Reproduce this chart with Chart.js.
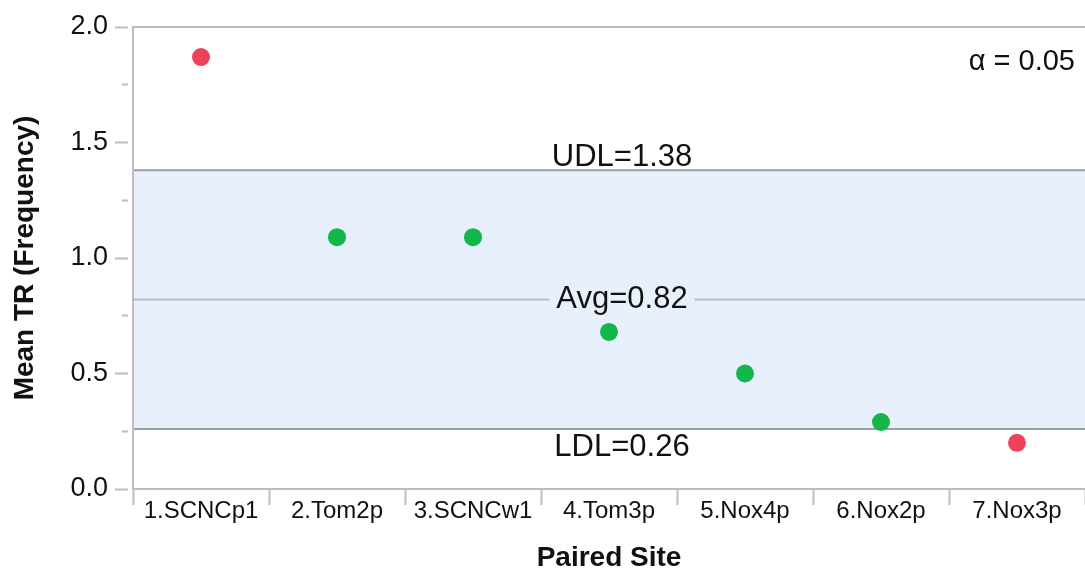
<!DOCTYPE html>
<html>
<head>
<meta charset="utf-8">
<script src="https://cdn.jsdelivr.net/npm/chart.js@4/dist/chart.umd.min.js"></script>
<style>
  html, body { margin: 0; padding: 0; background: #fff; }
  #wrap { width: 1085px; height: 576px; }
</style>
</head>
<body>
<div id="wrap"><canvas id="chart" width="1085" height="576"></canvas></div>
<script>
// paired sites and their mean TR
const sites = ["1.SCNCp1", "2.Tom2p", "3.SCNCw1", "4.Tom3p", "5.Nox4p", "6.Nox2p", "7.Nox3p"];
const meanTR = [1.87, 1.09, 1.09, 0.68, 0.5, 0.29, 0.2];

// decision limits
const udl = 1.38;
const avg = 0.82;
const ldl = 0.26;
const alpha = 0.05;

const FONT = '"Liberation Sans", Arial, Helvetica, sans-serif';
const RED = "#ef4159";
const GREEN = "#12b74a";
const AXIS_GREY = "#bdbdbd";

// band, limit lines and their labels, drawn under the points
const limitsPlugin = {
  id: "limits",
  beforeDatasetsDraw(chart) {
    const { ctx, chartArea: a, scales: { y } } = chart;
    const yU = y.getPixelForValue(udl);
    const yA = y.getPixelForValue(avg);
    const yL = y.getPixelForValue(ldl);
    const cx = (a.left + a.right) / 2 + 13;

    ctx.save();
    ctx.fillStyle = "#e8f0fc";
    ctx.fillRect(a.left + 1, yU, a.right - a.left - 1, yL - yU);

    ctx.lineWidth = 2;
    ctx.strokeStyle = "#9ca1a9";
    ctx.beginPath();
    ctx.moveTo(a.left + 1, yU);
    ctx.lineTo(a.right, yU);
    ctx.moveTo(a.left + 1, yL);
    ctx.lineTo(a.right, yL);
    ctx.stroke();

    ctx.font = "31px " + FONT;
    ctx.fillStyle = "#111";
    ctx.textAlign = "center";
    ctx.textBaseline = "alphabetic";

    const avgText = "Avg=" + avg.toFixed(2);
    const w = ctx.measureText(avgText).width;
    ctx.strokeStyle = "#b9bdc5";
    ctx.beginPath();
    ctx.moveTo(a.left + 1, yA);
    ctx.lineTo(cx - w / 2 - 7, yA);
    ctx.moveTo(cx + w / 2 + 7, yA);
    ctx.lineTo(a.right, yA);
    ctx.stroke();

    ctx.fillText("UDL=" + udl.toFixed(2), cx, yU - 4);
    ctx.fillText(avgText, cx, yA + 8);
    ctx.fillText("LDL=" + ldl.toFixed(2), cx, yL + 27);

    ctx.font = "29px " + FONT;
    ctx.textAlign = "right";
    ctx.fillText("\u03b1 = " + alpha.toFixed(2), a.right - 10, a.top + 43);
    ctx.restore();
  },
  afterDraw(chart) {
    const { ctx, chartArea: a } = chart;
    ctx.save();
    ctx.strokeStyle = AXIS_GREY;
    ctx.lineWidth = 2;
    ctx.beginPath();
    ctx.moveTo(a.left, a.top);
    ctx.lineTo(a.right, a.top);
    ctx.stroke();
    ctx.restore();
  },
};

const ctx = document.getElementById("chart").getContext("2d");

new Chart(ctx, {
  type: "line",
  data: {
    labels: sites,
    datasets: [
      {
        data: meanTR,
        showLine: false,
        pointRadius: 9,
        pointHoverRadius: 9,
        pointBorderWidth: 0,
        pointBackgroundColor: (c) => {
          const v = meanTR[c.dataIndex];
          return v > udl || v < ldl ? RED : GREEN;
        },
      },
    ],
  },
  options: {
    responsive: false,
    animation: false,
    devicePixelRatio: 1,
    layout: { autoPadding: false, padding: { top: 27, right: 0, bottom: 0, left: 0 } },
    plugins: {
      legend: { display: false },
      tooltip: { enabled: false },
    },
    scales: {
      x: {
        offset: true,
        border: { color: AXIS_GREY, width: 2 },
        grid: {
          offset: true,
          drawOnChartArea: false,
          tickLength: 16,
          tickColor: AXIS_GREY,
          tickWidth: 2,
        },
        ticks: {
          color: "#111",
          font: { family: FONT, size: 24 },
          padding: -8,
          maxRotation: 0,
          autoSkip: false,
        },
        title: {
          display: true,
          text: "Paired Site",
          color: "#111",
          font: { family: FONT, size: 28, weight: "bold" },
          padding: { top: 0, bottom: 1 },
        },
        afterFit: (scale) => {
          scale.height = 87;
        },
      },
      y: {
        min: 0,
        max: 2,
        border: { color: AXIS_GREY, width: 2 },
        grid: {
          drawOnChartArea: false,
          tickLength: 18,
          tickColor: AXIS_GREY,
          tickWidth: 2,
          // long ticks on the labelled values, short ones in between
          tickBorderDash: (c) => (c.tick && c.tick.value % 0.5 === 0 ? [13, 5] : [0, 7, 6, 5]),
        },
        ticks: {
          stepSize: 0.25,
          autoSkip: false,
          color: "#111",
          padding: 7,
          font: { family: FONT, size: 27 },
          callback: (v) => (v % 0.5 === 0 ? v.toFixed(1) : ""),
        },
        title: {
          display: true,
          text: "Mean TR (Frequency)",
          color: "#111",
          font: { family: FONT, size: 28, weight: "bold" },
          padding: { top: 8, bottom: 0 },
        },
        afterFit: (scale) => {
          scale.width = 133;
        },
      },
    },
  },
  plugins: [limitsPlugin],
});
</script>
</body>
</html>
